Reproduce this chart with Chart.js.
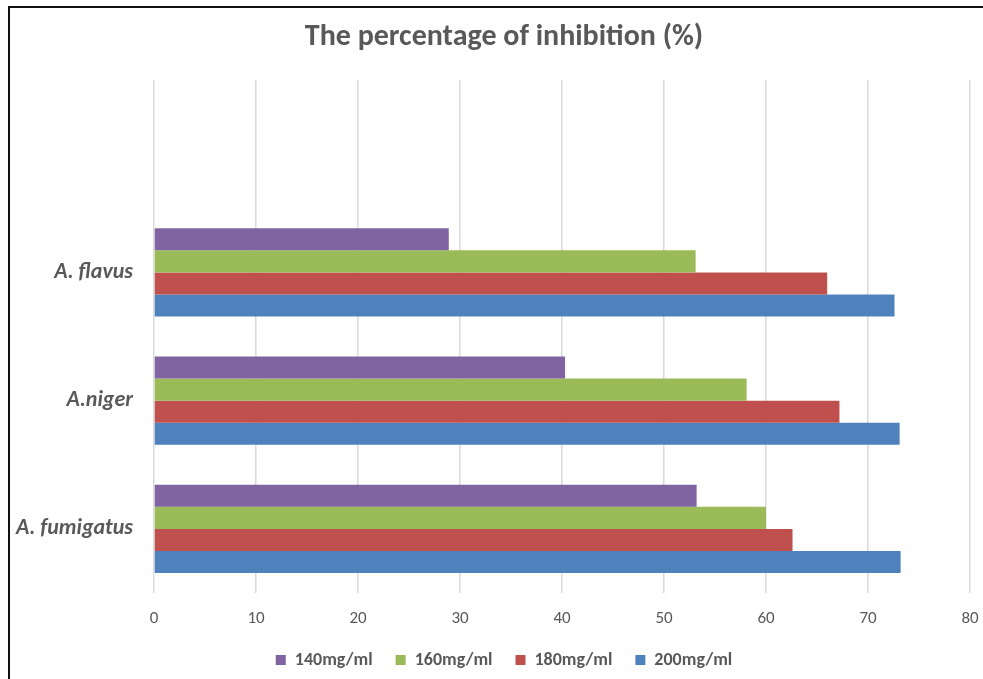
<!DOCTYPE html>
<html lang="en">
<head>
    <meta charset="UTF-8">
    <title>The percentage of inhibition (%)</title>
    <script src="https://cdn.jsdelivr.net/npm/chart.js"></script>
    <style>
        html, body {
            margin: 0;
            padding: 0;
            background: #fff;
            overflow: hidden;
        }
        .frame {
            position: absolute;
            left: 8px;
            top: 6px;
            width: 1100px;
            height: 800px;
            border: 2px solid #111;
        }
        .chart-box {
            position: absolute;
            left: 0;
            top: 0;
            width: 983px;
            height: 679px;
        }
    </style>
</head>
<body>
    <div class="frame"></div>
    <div class="chart-box">
        <canvas id="inhibitionChart"></canvas>
    </div>

    <script>
        // top slot is empty in the original, so first label is blank
        const species = ['', 'A. flavus', 'A.niger', 'A. fumigatus'];
        const doses = ['140mg/ml', '160mg/ml', '180mg/ml', '200mg/ml'];
        const dose140 = [null, 28.9, 40.3, 53.2];
        const dose160 = [null, 53.1, 58.1, 60.0];
        const dose180 = [null, 66.0, 67.2, 62.6];
        const dose200 = [null, 72.6, 73.1, 73.2];
        const xTicks = [0, 10, 20, 30, 40, 50, 60, 70, 80];

        const colors = ['#8064A2', '#9BBB59', '#C0504D', '#4F81BD'];
        const fontFamily = "Carlito, Calibri, Lato, 'Open Sans', sans-serif";

        // y labels are wider than the axis box, let them use the left margin
        const labelRoom = {
            id: 'labelRoom',
            afterLayout(c) {
                c.scales.y.left = 0;
            }
        };

        const ctx = document.getElementById('inhibitionChart').getContext('2d');
        const chart = new Chart(ctx, {
            type: 'bar',
            data: {
                labels: species,
                datasets: [dose140, dose160, dose180, dose200].map((vals, i) => ({
                    label: doses[i],
                    data: vals,
                    backgroundColor: colors[i],
                    borderWidth: 0,
                    barPercentage: 1.0,
                    categoryPercentage: 0.69
                }))
            },
            options: {
                indexAxis: 'y',
                responsive: true,
                maintainAspectRatio: false,
                animation: false,
                layout: {
                    padding: { top: 9, bottom: 0, left: 27, right: 2 }
                },
                scales: {
                    x: {
                        min: 0,
                        max: 80,
                        afterBuildTicks: (axis) => {
                            axis.ticks = xTicks.map(v => ({ value: v }));
                        },
                        grid: {
                            color: '#d9d9d9',
                            lineWidth: 1.5,
                            drawTicks: false
                        },
                        border: { display: false },
                        ticks: {
                            color: '#595959',
                            padding: 16,
                            font: { family: fontFamily, size: 17 }
                        },
                        afterFit: (axis) => {
                            axis.height = 35;
                            axis.paddingRight = 13;
                        }
                    },
                    y: {
                        grid: { display: false, drawTicks: false },
                        border: { display: false },
                        ticks: {
                            color: '#595959',
                            padding: 21,
                            font: { family: fontFamily, size: 22, weight: 'bold', style: 'italic' }
                        },
                        afterFit: (axis) => {
                            axis.width = 127;
                        }
                    }
                },
                plugins: {
                    title: {
                        display: true,
                        text: 'The percentage of inhibition (%)',
                        color: '#595959',
                        font: { family: fontFamily, size: 30, weight: 'bold' },
                        padding: { top: 10, bottom: 25 }
                    },
                    legend: {
                        position: 'bottom',
                        labels: {
                            color: '#595959',
                            boxWidth: 10,
                            boxHeight: 10,
                            padding: 23,
                            font: { family: fontFamily, size: 18, weight: 'bold' }
                        }
                    },
                    tooltip: { enabled: false }
                }
            },
            plugins: [labelRoom]
        });
    </script>
</body>
</html>
